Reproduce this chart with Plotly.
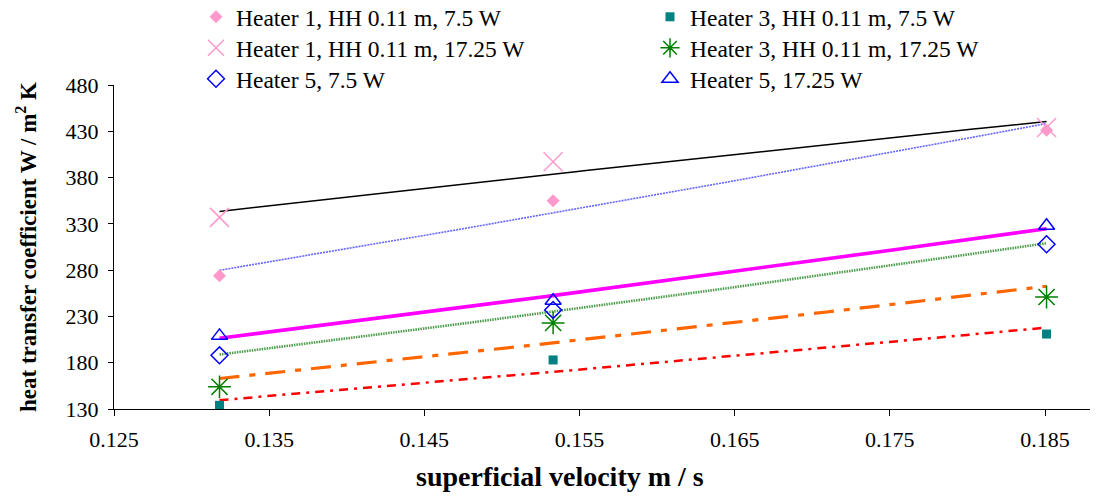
import numpy as np
import plotly.graph_objects as go

# superficial velocity (m/s)
velocity = [0.1318, 0.1533, 0.1851]

# heat transfer coefficient (W / m^2 K)
h1_7_5 = [274, 355, 431]
h1_17_25 = [337, 397, 434]
h3_7_5 = [134, 183, 211]
h3_17_25 = [154, 223, 251]
h5_7_5 = [188, 237, 308]
h5_17_25 = [209, 247, 328]

names = [
    "Heater 1, HH 0.11 m, 7.5 W",
    "Heater 3, HH 0.11 m, 7.5 W",
    "Heater 1, HH 0.11 m, 17.25 W",
    "Heater 3, HH 0.11 m, 17.25 W",
    "Heater 5, 7.5 W",
    "Heater 5, 17.25 W",
]
series = [h1_7_5, h3_7_5, h1_17_25, h3_17_25, h5_7_5, h5_17_25]

# two legend entries per row, three rows
legend_ids = ["legend", "legend", "legend2", "legend2", "legend3", "legend3"]

marker_styles = [
    dict(symbol="diamond", size=10, color="#ff99cc"),
    dict(symbol="square", size=9, color="#008080"),
    dict(symbol="x-thin-open", size=19, color="#ff99cc", line=dict(width=1.5, color="#ff99cc")),
    dict(symbol="asterisk-open", size=19, color="#008000", line=dict(width=1.5, color="#008000")),
    dict(symbol="diamond-open", size=13, color="#0000ff", line=dict(width=1.5, color="#0000ff")),
    dict(symbol="triangle-up-open", size=14, color="#0000ff", line=dict(width=1.5, color="#0000ff")),
]

# power-law trend line for each series
trend_styles = [
    dict(color="#6464ff", width=1.6, dash="2px,1px"),
    dict(color="#ff0000", width=2.5, dash="9px,6px,3px,6px"),
    dict(color="#000000", width=1.5, dash="solid"),
    dict(color="#ff6600", width=3.2, dash="20px,10px,6px,10px"),
    dict(color="#4c9c4c", width=2.6, dash="1.5px,1px"),
    dict(color="#ff00ff", width=3.6, dash="solid"),
]

fig = go.Figure()

x = np.array(velocity)
xs = np.linspace(x.min(), x.max(), 80)
for ys, style in zip(series, trend_styles):
    b, ln_a = np.polyfit(np.log(x), np.log(np.array(ys, dtype=float)), 1)
    fig.add_trace(go.Scatter(
        x=xs, y=np.exp(ln_a) * xs ** b, mode="lines",
        line=style, showlegend=False, hoverinfo="skip",
    ))

for name, ys, m, lg in zip(names, series, marker_styles, legend_ids):
    fig.add_trace(go.Scatter(x=velocity, y=ys, mode="markers", name=name,
                             marker=m, legend=lg))

serif = "Liberation Serif, Times New Roman, serif"
W, H = 1115, 503
L, R, T, B = 114, 25, 85, 94


def row_legend(y_px):
    return dict(
        orientation="h", xref="container", yref="container",
        x=196 / W, y=1 - y_px / H, xanchor="left", yanchor="middle",
        entrywidth=409, entrywidthmode="pixels",
        font=dict(family=serif, size=23.5, color="black"),
        bgcolor="rgba(0,0,0,0)", traceorder="normal",
    )


plot_w = W - L - R
plot_h = H - T - B

fig.update_layout(
    width=W, height=H,
    margin=dict(l=L, r=R, t=T, b=B, autoexpand=False),
    paper_bgcolor="white", plot_bgcolor="white",
    font=dict(family=serif, color="black", size=22),
    showlegend=True,
    legend=row_legend(17),
    legend2=row_legend(48),
    legend3=row_legend(79),
    xaxis=dict(
        range=[0.125, 0.1879], tickvals=[0.125, 0.135, 0.145, 0.155, 0.165, 0.175, 0.185],
        ticktext=["0.125", "0.135", "0.145", "0.155", "0.165", "0.175", "0.185"],
        showgrid=False, zeroline=False, showline=True, linecolor="black", linewidth=1,
        ticks="outside", ticklen=6, tickcolor="black",
        tickfont=dict(family=serif, size=22), ticklabelstandoff=5,
    ),
    yaxis=dict(
        range=[130, 480], tickvals=[130, 180, 230, 280, 330, 380, 430, 480],
        showgrid=False, zeroline=False, showline=True, linecolor="black", linewidth=1,
        ticks="outside", ticklen=5, tickcolor="black",
        tickfont=dict(family=serif, size=22), ticklabelstandoff=5,
        title=dict(text="<b>heat transfer coefficient W / m<sup>2</sup> K</b>",
                   font=dict(family=serif, size=23), standoff=22),
    ),
    annotations=[
        dict(
            text="<b>superficial velocity m / s</b>",
            xref="paper", yref="paper",
            x=(560 - L) / plot_w, y=-(476 - (T + plot_h)) / plot_h,
            xanchor="center", yanchor="middle", showarrow=False,
            font=dict(family=serif, size=28, color="black"),
        )
    ],
)

fig.write_html("out.html")
